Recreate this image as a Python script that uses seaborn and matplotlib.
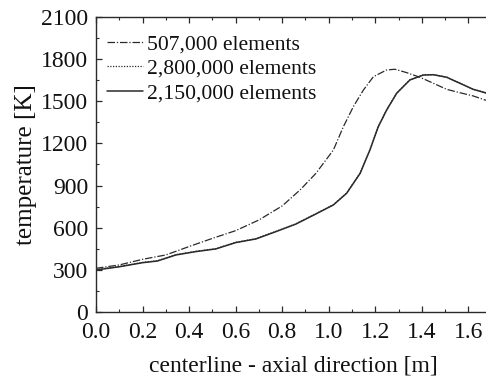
import numpy as np
import pandas as pd
import matplotlib
matplotlib.use("Agg")
import matplotlib.pyplot as plt
import seaborn as sns
from matplotlib.ticker import MultipleLocator

x_a = [0.0, 0.1, 0.2, 0.3, 0.4, 0.5, 0.6, 0.7, 0.8, 0.877, 0.945, 1.02, 1.063, 1.106, 1.149, 1.192, 1.249, 1.285, 1.335, 1.392, 1.45, 1.507, 1.564, 1.621, 1.672, 1.7]
t_507k = [311, 335, 375, 406, 466, 524, 579, 655, 755, 869, 987, 1153, 1319, 1462, 1580, 1675, 1723, 1728, 1704, 1671, 1628, 1585, 1561, 1538, 1509, 1495]

x_b = [0.0, 0.1, 0.2, 0.264, 0.343, 0.429, 0.515, 0.6, 0.687, 0.773, 0.859, 0.945, 1.02, 1.077, 1.135, 1.177, 1.213, 1.249, 1.292, 1.349, 1.407, 1.45, 1.507, 1.564, 1.621, 1.672, 1.7]
t_2150k = [299, 322, 351, 363, 406, 430, 449, 494, 520, 572, 626, 698, 762, 845, 987, 1153, 1319, 1438, 1557, 1652, 1687, 1689, 1671, 1628, 1585, 1561, 1548]
t_2800k = [302, 324, 353, 365, 408, 432, 451, 496, 522, 574, 628, 700, 764, 847, 989, 1155, 1320, 1439, 1558, 1653, 1688, 1690, 1672, 1629, 1586, 1562, 1549]

labels = ["507,000 elements", "2,800,000 elements", "2,150,000 elements"]
xtick_vals = [0.0, 0.2, 0.4, 0.6, 0.8, 1.0, 1.2, 1.4, 1.6]

sns.set_theme(style="ticks")
plt.rcParams["font.family"] = ["Liberation Serif", "DejaVu Serif"]

fig = plt.figure(figsize=(4.86, 3.78), dpi=100)
W, H = 486, 378
left, right, top, bottom = 96, 491.6, 17, 312
ax = fig.add_axes([left / W, 1 - bottom / H, (right - left) / W, (bottom - top) / H])

col = "#2a2a2a"
sns.lineplot(x=x_a, y=t_507k, ax=ax, color=col, lw=0.9, label=labels[0])
sns.lineplot(x=x_b, y=t_2800k, ax=ax, color=col, lw=0.9, label=labels[1])
sns.lineplot(x=x_b, y=t_2150k, ax=ax, color=col, lw=1.1, label=labels[2])
lines = ax.get_lines()
lines[0].set_linestyle((0, (6, 1.5, 1, 1.5)))
lines[1].set_linestyle((0, (1, 1.2)))
lines[2].set_linestyle("-")

ax.set_xlim(0, 1.7)
ax.set_ylim(0, 2100)
ax.xaxis.set_minor_locator(MultipleLocator(0.1))
ax.yaxis.set_major_locator(MultipleLocator(300))
ax.yaxis.set_minor_locator(MultipleLocator(150))
ax.set_xticks(xtick_vals)
ax.set_xticklabels([f"{v:.1f}" for v in xtick_vals])
ax.tick_params(which="both", direction="in", top=True, right=True, colors=col, labelcolor="#111111")
ax.tick_params(which="major", length=4, width=0.9, labelsize=17)
ax.tick_params(axis="x", which="major", pad=7.5)
ax.tick_params(axis="y", which="major", pad=5.5)
ax.tick_params(which="minor", length=2.5, width=0.8)
for s in ax.spines.values():
    s.set_color(col)
    s.set_linewidth(1.0)

ax.set_xlabel("centerline - axial direction [m]", fontsize=17, color="#111111", labelpad=9)
ax.set_ylabel("temperature [K]", fontsize=18, color="#111111", labelpad=3)

leg = ax.legend(loc="upper left", frameon=False, fontsize=15.6, handlelength=1.65,
                handletextpad=0.2, labelspacing=0.22, borderaxespad=0.0,
                bbox_to_anchor=(0.006, 0.972))
for t in leg.get_texts():
    t.set_color("#111111")

fig.savefig("out.png", dpi=100)
